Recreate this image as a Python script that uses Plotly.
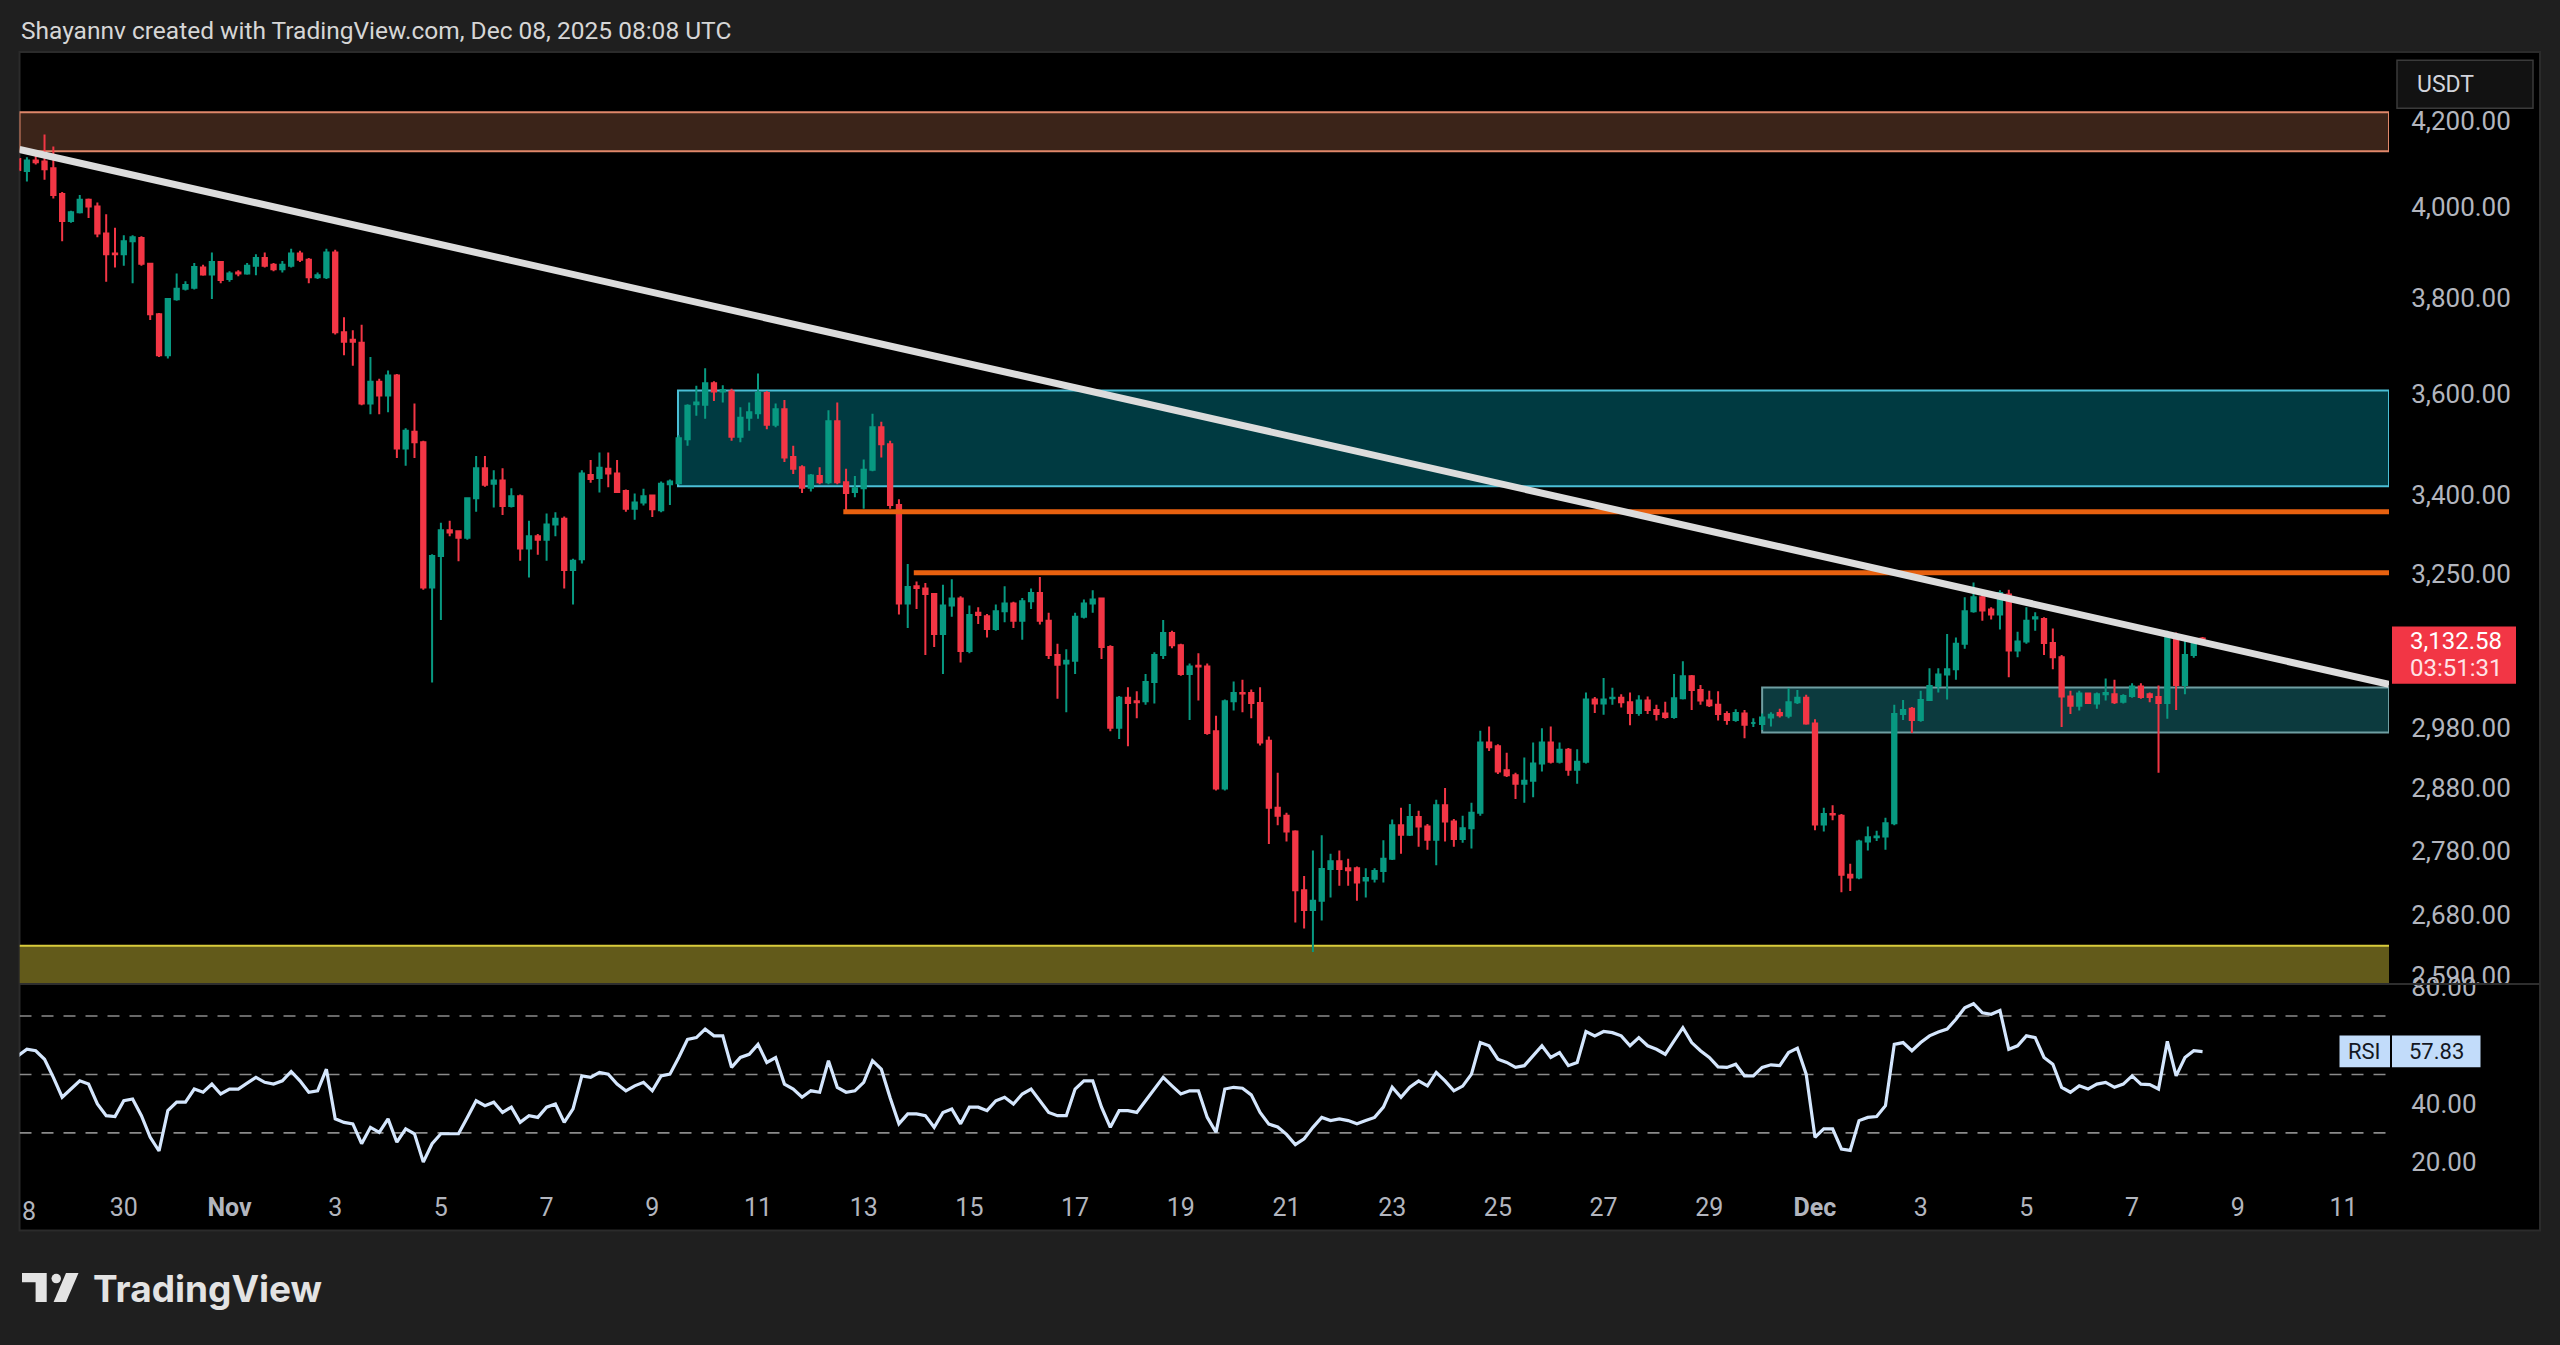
import plotly.graph_objects as go
import pandas as pd

W, H = 2560, 1345
# vertical calibration of the rendered page (measured from earlier renders)
VS, VO = 1.01424, -11.76
def px(x): return x / W
def py(y): return 1 - (VS * y + VO) / H

FONT = "Roboto"
AXIS_TXT = "#b2b5be"
UP = "#089981"
DOWN = "#f23645"

bar_start = "2025-10-28 00:00"
bar_interval = "4h"

opens = [4111,4083,4107,4105,4089,4030,3969,3989,4017,4002,
3941,3897,3895,3924,3931,3874,3765,3679,3797,3820,
3822,3866,3851,3878,3841,3855,3853,3870,3887,3872,
3862,3870,3897,3883,3845,3845,3899,3727,3711,3705,
3580,3624,3596,3637,3490,3523,3502,3226,3284,3332,
3330,3318,3393,3451,3421,3427,3378,3397,3298,3321,
3314,3343,3354,3258,3278,3438,3432,3450,3441,3407,
3373,3385,3398,3370,3420,3422,3508,3578,3577,3621,
3604,3604,3513,3551,3560,3601,3537,3568,3473,3453,
3413,3436,3424,3544,3424,3405,3412,3448,3532,3498,
3380,3197,3228,3224,3214,3142,3193,3206,3112,3180,
3174,3151,3183,3197,3166,3201,3216,3166,3105,3090,
3095,3173,3197,3206,3119,2980,3031,3025,3025,3058,
3105,3144,3122,3072,3086,3085,2974,2879,3025,3039,
3039,3022,2958,2848,2835,2810,2718,2688,2702,2751,
2763,2752,2752,2733,2736,2748,2767,2820,2805,2833,
2818,2797,2852,2826,2798,2815,2840,2955,2949,2909,
2901,2887,2892,2920,2955,2923,2943,2910,2923,3028,
3021,3030,3031,3023,3005,3026,3010,3004,2998,3030,
3068,3044,3026,3019,3003,2993,3004,2988,2986,2997,
3005,3000,3023,3031,2987,2821,2838,2835,2742,2738,
2794,2801,2802,2823,3003,3012,2993,3027,3051,3071,
3080,3125,3183,3208,3186,3177,3213,3113,3129,3170,
3169,3126,3101,3033,3017,3038,3021,3037,3037,3024,
3034,3050,3037,3032,3022,3137,3053,3105,3134]

highs = [4125,4115,4130,4168,4140,4035,3992,4028,4020,4011,
3984,3954,3937,3937,3935,3876,3768,3800,3853,3836,
3876,3872,3899,3880,3858,3860,3876,3895,3899,3876,
3880,3907,3903,3887,3855,3907,3905,3759,3731,3743,
3675,3630,3647,3640,3530,3580,3505,3287,3346,3350,
3332,3395,3475,3475,3447,3451,3412,3400,3350,3325,
3364,3366,3358,3279,3447,3467,3482,3482,3467,3410,
3402,3411,3400,3425,3429,3516,3578,3616,3652,3625,
3617,3610,3572,3582,3641,3605,3580,3587,3495,3457,
3440,3453,3566,3582,3450,3436,3468,3559,3543,3505,
3391,3269,3237,3234,3216,3231,3241,3210,3193,3190,
3178,3195,3228,3200,3207,3224,3245,3180,3125,3115,
3180,3204,3221,3207,3122,3034,3049,3042,3072,3110,
3167,3148,3125,3090,3108,3090,3000,3028,3059,3062,
3045,3049,2965,2905,2840,2812,2740,2780,2804,2775,
2780,2767,2755,2752,2752,2796,2829,2848,2854,2843,
2822,2861,2880,2830,2835,2856,2975,2982,2952,2938,
2905,2930,2955,2979,2982,2955,2946,2944,3040,3032,
3065,3048,3037,3040,3035,3033,3019,3024,3072,3094,
3070,3053,3043,3042,3008,3011,3010,2996,3004,3006,
3012,3047,3044,3036,2994,2848,2852,2838,2759,2797,
2818,2811,2832,3019,3027,3015,3043,3082,3082,3142,
3136,3208,3235,3220,3190,3221,3222,3146,3190,3181,
3172,3152,3105,3043,3043,3040,3040,3064,3062,3037,
3056,3056,3040,3052,3148,3145,3137,3136,3137]

lows = [4080,4059,4098,4063,4020,3924,3965,3986,3976,3933,
3835,3866,3870,3832,3870,3753,3675,3672,3794,3816,
3818,3848,3798,3832,3835,3847,3850,3849,3866,3858,
3855,3866,3878,3832,3841,3841,3722,3679,3657,3576,
3558,3558,3562,3471,3456,3471,3222,3057,3167,3321,
3274,3314,3367,3415,3375,3361,3375,3275,3244,3286,
3275,3321,3224,3195,3270,3423,3404,3414,3404,3367,
3352,3379,3357,3366,3380,3419,3495,3555,3549,3585,
3582,3505,3502,3525,3549,3528,3532,3463,3440,3403,
3406,3420,3420,3420,3369,3395,3373,3445,3472,3373,
3177,3153,3187,3105,3119,3072,3173,3092,3108,3160,
3136,3148,3163,3153,3132,3187,3159,3098,3029,3006,
3072,3170,3180,3098,2974,2961,2949,2996,3019,3021,
3098,3117,3069,2993,3026,2968,2876,2876,3009,3006,
2996,2950,2790,2820,2794,2669,2660,2625,2672,2707,
2725,2725,2702,2707,2730,2730,2765,2775,2803,2786,
2781,2757,2794,2786,2792,2783,2835,2941,2903,2898,
2862,2856,2865,2907,2920,2920,2900,2887,2920,3005,
3002,3019,3014,2984,3000,3003,2992,2995,2995,3028,
3010,3019,3015,2992,2985,2990,2962,2981,2976,2982,
2997,2996,3020,2985,2812,2810,2828,2715,2717,2735,
2780,2795,2781,2820,2993,2971,2990,3026,3040,3028,
3062,3116,3180,3166,3168,3150,3066,3101,3125,3148,
3105,3080,2981,3003,3009,3020,3012,3026,3020,3021,
3031,3029,3023,2905,2995,3010,3037,3100,3128]

closes = [4085,4107,4103,4087,4028,3969,3989,4017,4002,3941,
3895,3895,3924,3933,3874,3765,3679,3798,3820,3828,
3867,3851,3878,3839,3853,3853,3870,3887,3870,3862,
3872,3897,3883,3845,3849,3899,3727,3707,3707,3580,
3624,3596,3637,3490,3525,3502,3226,3284,3332,3328,
3318,3393,3451,3419,3427,3378,3397,3298,3321,3314,
3343,3354,3258,3275,3441,3430,3452,3441,3405,3373,
3385,3397,3372,3421,3425,3510,3575,3582,3621,3604,
3607,3513,3551,3562,3601,3537,3568,3472,3450,3413,
3437,3424,3544,3424,3403,3412,3448,3532,3498,3380,
3197,3227,3225,3214,3142,3193,3206,3112,3176,3176,
3151,3183,3197,3166,3201,3216,3166,3105,3088,3095,
3173,3197,3204,3119,2980,3031,3022,3023,3058,3105,
3144,3122,3072,3085,3085,2971,2879,3025,3039,3038,
3022,2955,2848,2835,2810,2718,2688,2702,2751,2763,
2751,2749,2730,2737,2748,2767,2820,2805,2833,2818,
2797,2852,2826,2798,2815,2840,2955,2947,2907,2901,
2887,2892,2920,2955,2923,2943,2910,2923,3028,3021,
3028,3031,3023,3005,3026,3010,3003,2998,3030,3068,
3044,3026,3018,3003,2993,3005,2985,2988,2997,3002,
3001,3023,3031,2987,2821,2838,2837,2742,2738,2794,
2801,2802,2823,3003,3010,2993,3027,3051,3071,3080,
3125,3183,3208,3184,3177,3216,3113,3129,3166,3172,
3126,3101,3033,3017,3038,3022,3037,3039,3023,3034,
3050,3032,3032,3022,3137,3053,3105,3129,3132.58]

rsi = [56.4,58.6,58.1,55.2,49,42.2,45,47.8,46.7,39.9,
35.9,35.6,41,41.6,35.9,28.5,23.8,37.6,40.5,40.5,
45,43.9,46.7,43.3,45,45,47,49,47.3,46.7,
47.8,51,47.8,43.9,44.4,51.8,34.8,33.6,33.1,26.3,
31.9,30.2,34.8,26.8,31.4,29.7,20,26.3,29.7,29.7,
29.7,35.3,41,39.3,40.5,37,38.8,33.6,35.9,35.3,
38.8,39.9,33.6,38.2,49.5,49,50.7,50.1,46.7,44.4,
46.1,47.3,44.4,49.5,50.1,55.8,62,62.6,65.5,63.2,
63.2,52.4,55.8,56.9,60.3,54.1,55.8,46.7,45,42.2,
44.4,43.9,54.7,45.6,43.9,44.4,47.3,54.7,51.8,42,
33.1,36.5,36.5,35.9,31.9,37,38.2,33.1,38.8,38.8,
37.6,41,42.2,39.9,43.3,45,41,37,35.9,35.9,
45,47.8,47.8,38.8,31.9,37.6,37.6,37,41,45,
49,46.1,43.3,44.4,44.4,35.3,30.2,45,45.6,45.3,
43,37,33,32,29.5,26,28,31.9,35.3,34.2,
34.8,34.2,33.1,34.2,35.3,38.8,45.6,42.2,45.6,47.8,
46.1,50.7,47.8,44.4,46,50.1,60.9,59.8,55.2,54.1,
52.4,53,56.4,59.8,55.8,57.5,53,54.1,64.7,63.2,
64.7,64.3,63.2,59.8,62.6,59.8,58.6,56.9,61.5,66,
60.9,58.1,55.8,52.6,52.4,53.5,49.5,49.5,52.4,53.3,
53,57.5,59,50.1,28.5,31.4,31.4,24.5,24,34.2,
35.3,35.6,39.3,60.3,60.9,58.1,60.9,63.2,64.5,65.5,
68.9,72.8,74.2,71.1,70.6,71.9,58.6,59.8,63.2,62.6,
55.8,53.5,45.6,43.9,46.1,45,46.7,47.3,45.6,46.7,
49.5,46.7,46.5,45,61.3,49.5,55.8,58.1,57.83]

last_price = 3132.58
last_rsi = 57.83
countdown = "03:51:31"

price_ticks = [4200, 4000, 3800, 3600, 3400, 3250, 2980, 2880, 2780, 2680, 2590]
rsi_ticks = [80, 40, 20]
time_ticks = ["2025-10-30", "2025-11-01", "2025-11-03", "2025-11-05", "2025-11-07",
              "2025-11-09", "2025-11-11", "2025-11-13", "2025-11-15", "2025-11-17",
              "2025-11-19", "2025-11-21", "2025-11-23", "2025-11-25", "2025-11-27",
              "2025-11-29", "2025-12-01", "2025-12-03", "2025-12-05", "2025-12-07",
              "2025-12-09", "2025-12-11"]
time_labels = ["30", "<b>Nov</b>", "3", "5", "7", "9", "11", "13", "15", "17", "19",
               "21", "23", "25", "27", "29", "<b>Dec</b>", "3", "5", "7", "9", "11"]

view_start = "2025-10-28 00:38"
view_end = "2025-12-11 20:40"

resist_zone = [4129, 4221]
supply_zone = [3416, 3606]
supply_start = "2025-11-09 11:40"
demand_zone = [2972, 3048.5]
demand_start = "2025-11-30 00:00"
support_zone = [2560, 2634]
level_high = 3367
level_high_start = "2025-11-12 14:45"
level_low = 3253
level_low_start = "2025-11-13 22:45"
trend_prices = [4133, 3054]
rsi_levels = [70, 50, 30]
rsi_view = [12.37, 80.57]

times = pd.date_range(bar_start, periods=len(opens), freq=bar_interval)

fig = go.Figure()
fig.add_trace(go.Candlestick(
    x=times, open=opens, high=highs, low=lows, close=closes,
    xaxis="x", yaxis="y",
    increasing=dict(line=dict(color=UP, width=2), fillcolor=UP),
    decreasing=dict(line=dict(color=DOWN, width=2), fillcolor=DOWN),
    whiskerwidth=0, showlegend=False, hoverinfo="skip"))
fig.add_trace(go.Scatter(
    x=times, y=rsi, xaxis="x2", yaxis="y2", mode="lines",
    line=dict(color="#d4e6fd", width=3.2), showlegend=False, hoverinfo="skip"))

shapes = []
shapes.append(dict(type="rect", xref="paper", yref="paper", layer="below",
                   x0=px(19.5), x1=px(2540), y0=py(1230), y1=py(50.7),
                   fillcolor="#000000", line=dict(color="#2b2b2b", width=2)))
shapes.append(dict(type="line", xref="paper", yref="paper", layer="above",
                   x0=px(19.5), x1=px(2540), y0=py(983.5), y1=py(983.5),
                   line=dict(color="#2e2e2e", width=2)))
shapes.append(dict(type="rect", xref="x", yref="y", layer="below",
                   x0=view_start, x1=view_end, y0=resist_zone[0], y1=resist_zone[1],
                   fillcolor="#3b2419", line=dict(color="#e0876a", width=2)))
shapes.append(dict(type="rect", xref="x", yref="y", layer="below",
                   x0=supply_start, x1=view_end, y0=supply_zone[0], y1=supply_zone[1],
                   fillcolor="#003a41", line=dict(color="#4bbfd6", width=2)))
shapes.append(dict(type="rect", xref="x", yref="y", layer="below",
                   x0=demand_start, x1=view_end, y0=demand_zone[0], y1=demand_zone[1],
                   fillcolor="#0c3a3e", line=dict(color="#6f9ea2", width=2)))
shapes.append(dict(type="rect", xref="x", yref="y", layer="below",
                   x0=view_start, x1=view_end, y0=support_zone[0], y1=support_zone[1],
                   fillcolor="#625a1a", line=dict(width=0)))
shapes.append(dict(type="line", xref="x", yref="y", layer="below",
                   x0=view_start, x1=view_end, y0=support_zone[1], y1=support_zone[1],
                   line=dict(color="#d9cc3c", width=2)))
shapes.append(dict(type="line", xref="x", yref="y", layer="above",
                   x0=level_high_start, x1=view_end, y0=level_high, y1=level_high,
                   line=dict(color="#e8610f", width=5)))
shapes.append(dict(type="line", xref="x", yref="y", layer="above",
                   x0=level_low_start, x1=view_end, y0=level_low, y1=level_low,
                   line=dict(color="#e8610f", width=5)))
shapes.append(dict(type="line", xref="x", yref="y", layer="above",
                   x0=view_start, x1=view_end, y0=trend_prices[0], y1=trend_prices[1],
                   line=dict(color="#dcdcdc", width=7)))
for lv in rsi_levels:
    shapes.append(dict(type="line", xref="x2", yref="y2", layer="below",
                       x0=view_start, x1=view_end, y0=lv, y1=lv,
                       line=dict(color="#8a8a8a", width=1.6, dash="12px,10px")))
shapes.append(dict(type="rect", xref="paper", yref="paper", layer="above",
                   x0=px(2392), x1=px(2516), y0=py(683), y1=py(625.5),
                   fillcolor=DOWN, line=dict(width=0)))
shapes.append(dict(type="rect", xref="paper", yref="paper", layer="above",
                   x0=px(2397), x1=px(2533), y0=py(107), y1=py(59),
                   fillcolor="#121212", line=dict(color="#3a3a3a", width=1.5)))
shapes.append(dict(type="rect", xref="paper", yref="paper", layer="above",
                   x0=px(2339.5), x1=px(2390), y0=py(1066.7), y1=py(1035),
                   fillcolor="#c2dcfa", line=dict(width=0)))
shapes.append(dict(type="rect", xref="paper", yref="paper", layer="above",
                   x0=px(2392), x1=px(2480.5), y0=py(1066.7), y1=py(1035),
                   fillcolor="#c2dcfa", line=dict(width=0)))
logo_col = "#e3e3e3"
t_path = (f"M{px(22)},{py(1272.7)} L{px(46.7)},{py(1272.7)} L{px(46.7)},{py(1301.7)} "
          f"L{px(35.6)},{py(1301.7)} L{px(35.6)},{py(1282)} L{px(22)},{py(1282)} Z")
shapes.append(dict(type="path", xref="paper", yref="paper", path=t_path,
                   fillcolor=logo_col, line=dict(width=0)))
shapes.append(dict(type="circle", xref="paper", yref="paper",
                   x0=px(51.5), x1=px(61), y0=py(1283), y1=py(1273.5),
                   fillcolor=logo_col, line=dict(width=0)))
s_path = (f"M{px(66)},{py(1272.7)} L{px(78.5)},{py(1272.7)} L{px(66)},{py(1301.7)} "
          f"L{px(53.6)},{py(1301.7)} Z")
shapes.append(dict(type="path", xref="paper", yref="paper", path=s_path,
                   fillcolor=logo_col, line=dict(width=0)))

annotations = [
    dict(text="Shayannv created with TradingView.com, Dec 08, 2025 08:08 UTC",
         x=px(19), y=py(29), xref="paper", yref="paper", xanchor="left", yanchor="middle",
         showarrow=False, font=dict(family=FONT, size=24.5, color="#d6d6d6")),
    dict(text="8", x=px(19.5), y=py(1211), xref="paper", yref="paper", xanchor="left",
         yanchor="middle", showarrow=False, font=dict(family=FONT, size=25, color=AXIS_TXT)),
    dict(text="USDT", x=px(2445), y=py(83), xref="paper", yref="paper", xanchor="center",
         yanchor="middle", showarrow=False, font=dict(family=FONT, size=23, color="#d1d4dc")),
    dict(text=f"{last_price:,.2f}", x=px(2456), y=py(640), xref="paper", yref="paper",
         xanchor="center", yanchor="middle", showarrow=False,
         font=dict(family=FONT, size=24, color="#ffffff")),
    dict(text=countdown, x=px(2456), y=py(667), xref="paper", yref="paper",
         xanchor="center", yanchor="middle", showarrow=False,
         font=dict(family=FONT, size=24, color="#ffe3e5")),
    dict(text="RSI", x=px(2364.7), y=py(1051), xref="paper", yref="paper",
         xanchor="center", yanchor="middle", showarrow=False,
         font=dict(family=FONT, size=22, color="#131722")),
    dict(text=f"{last_rsi:.2f}", x=px(2436), y=py(1051), xref="paper", yref="paper",
         xanchor="center", yanchor="middle", showarrow=False,
         font=dict(family=FONT, size=22, color="#131722")),
    dict(text="<b>TradingView</b>", x=px(91), y=py(1288), xref="paper", yref="paper",
         xanchor="left", yanchor="middle", showarrow=False,
         font=dict(family="Inter", size=37, color=logo_col)),
]

fig.update_layout(
    width=W, height=H, autosize=False,
    margin=dict(l=0, r=0, t=0, b=0),
    paper_bgcolor="#1f1f1f", plot_bgcolor="#000000",
    showlegend=False,
    xaxis=dict(domain=[px(19.5), px(2389)], range=[view_start, view_end], type="date",
               anchor="y", showticklabels=False, showgrid=False, zeroline=False,
               showline=False, ticks="", rangeslider=dict(visible=False), fixedrange=True),
    yaxis=dict(domain=[py(982.6), py(50.7)], type="log", range=[3.41144, 3.64019],
               anchor="x", side="right", tickvals=price_ticks,
               ticktext=[f"{v:,.2f}" for v in price_ticks],
               tickfont=dict(family=FONT, size=26, color=AXIS_TXT),
               ticks="outside", ticklen=16, tickcolor="rgba(0,0,0,0)",
               showgrid=False, zeroline=False, showline=False, fixedrange=True),
    xaxis2=dict(domain=[px(19.5), px(2389)], matches="x", anchor="y2", type="date",
                tickvals=time_ticks, ticktext=time_labels, tickangle=0,
                tickfont=dict(family=FONT, size=25, color=AXIS_TXT),
                ticks="outside", ticklen=1, tickcolor="rgba(0,0,0,0)",
                showgrid=False, zeroline=False, showline=False, fixedrange=True),
    yaxis2=dict(domain=[py(1184), py(984.5)], range=rsi_view, anchor="x2",
                side="right", tickvals=rsi_ticks, ticktext=[f"{v:.2f}" for v in rsi_ticks],
                tickfont=dict(family=FONT, size=26, color=AXIS_TXT),
                ticks="outside", ticklen=16, tickcolor="rgba(0,0,0,0)",
                showgrid=False, zeroline=False, showline=False, fixedrange=True),
    shapes=shapes,
    annotations=annotations,
)

fig.write_html("out.html", config={"displayModeBar": False},
               post_script="document.body.style.margin='0px';"
                           "document.documentElement.style.background='#1f1f1f';"
                           "document.body.style.background='#1f1f1f';")
